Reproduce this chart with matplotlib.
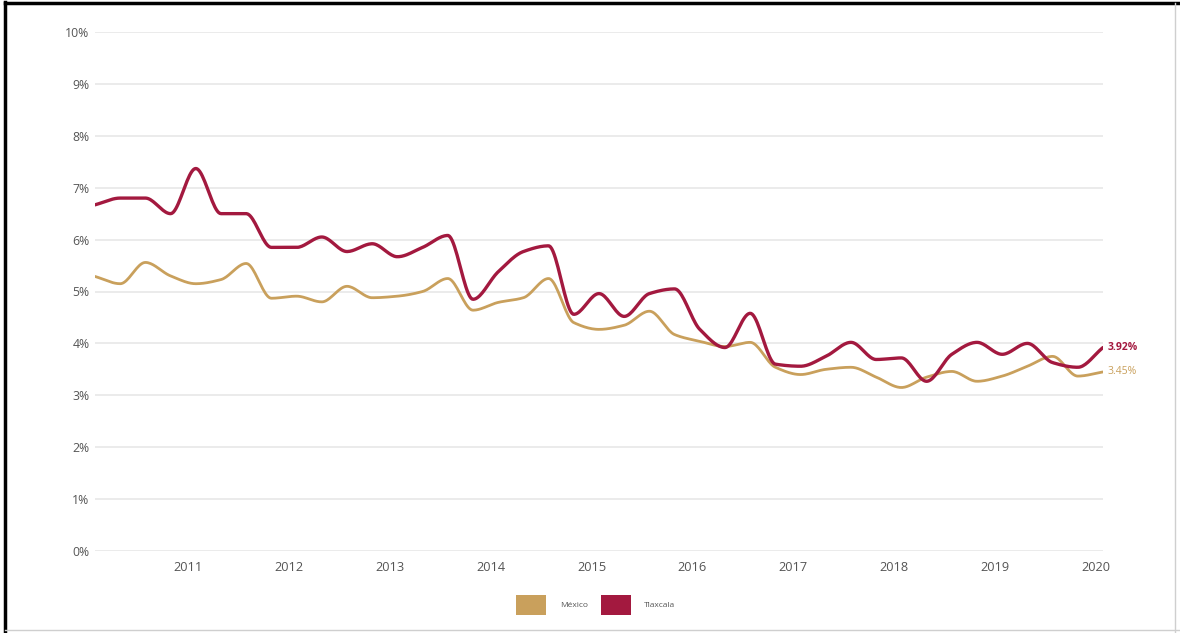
import numpy as np
import matplotlib.pyplot as plt
from matplotlib.patches import Patch
from matplotlib.lines import Line2D

# quarterly series, 2010 Q1 .. 2020 Q1
mexico = [5.29, 5.15, 5.56, 5.30, 5.15, 5.23, 5.54, 4.87, 4.91, 4.80,
          5.10, 4.88, 4.91, 5.00, 5.25, 4.64, 4.79, 4.88, 5.25, 4.40,
          4.27, 4.35, 4.62, 4.17, 4.04, 3.94, 4.02, 3.54, 3.40, 3.50,
          3.54, 3.35, 3.15, 3.35, 3.46, 3.27, 3.37, 3.56, 3.75, 3.37,
          3.45]
tlaxcala = [6.67, 6.80, 6.80, 6.50, 7.37, 6.50, 6.50, 5.85, 5.85, 6.05,
            5.77, 5.92, 5.67, 5.85, 6.08, 4.85, 5.38, 5.77, 5.88, 4.56,
            4.96, 4.52, 4.96, 5.05, 4.27, 3.92, 4.58, 3.60, 3.56, 3.75,
            4.02, 3.69, 3.72, 3.27, 3.79, 4.02, 3.79, 4.00, 3.63, 3.54,
            3.92]
years = [2011, 2012, 2013, 2014, 2015, 2016, 2017, 2018, 2019, 2020]
series_names = ["México", "Tlaxcala"]

GOLD = "#c9a05c"
RED = "#a3193f"
GRID = "#e8e8e8"
TXT = "#555555"

plt.rcParams['font.family'] = ['Open Sans', 'DejaVu Sans']


def pchip(x, y, xs):
    # monotone cubic interpolation (Fritsch-Carlson)
    x = np.asarray(x, float)
    y = np.asarray(y, float)
    h = np.diff(x)
    d = np.diff(y) / h
    m = np.zeros_like(y)
    for k in range(1, len(y) - 1):
        if d[k - 1] * d[k] > 0:
            w1 = 2 * h[k] + h[k - 1]
            w2 = h[k] + 2 * h[k - 1]
            m[k] = (w1 + w2) / (w1 / d[k - 1] + w2 / d[k])
    m[0] = d[0]
    m[-1] = d[-1]
    idx = np.clip(np.searchsorted(x, xs) - 1, 0, len(x) - 2)
    t = (xs - x[idx]) / h[idx]
    h00 = 2 * t**3 - 3 * t**2 + 1
    h10 = t**3 - 2 * t**2 + t
    h01 = -2 * t**3 + 3 * t**2
    h11 = t**3 - t**2
    return h00 * y[idx] + h10 * h[idx] * m[idx] + h01 * y[idx + 1] + h11 * h[idx] * m[idx + 1]


fig = plt.figure(figsize=(11.8, 6.33), dpi=100)
ax = fig.add_axes([95 / 1180, 1 - 551 / 633, 1008 / 1180, 519 / 633])

q = np.arange(len(mexico))
qs = np.linspace(0, len(mexico) - 1, 800)
ax.plot(qs, pchip(q, mexico, qs), color=GOLD, lw=2.0, solid_capstyle='round', zorder=3)
ax.plot(qs, pchip(q, tlaxcala, qs), color=RED, lw=2.4, solid_capstyle='round', zorder=4)

ax.set_xlim(0, len(mexico) - 1)
ax.set_ylim(0, 10)
ax.set_yticks(range(0, 11))
ax.set_yticklabels([f"{v}%" for v in range(0, 11)], fontsize=8.8, color=TXT)
ax.set_xticks([4 * (k + 1) - 0.3 for k in range(len(years))])
ax.set_xticklabels([str(y) for y in years], fontsize=9.2, color=TXT)
ax.tick_params(length=0, pad=7)
ax.tick_params(axis='y', pad=4)
ax.grid(axis='y', color=GRID, lw=1.2)
ax.set_axisbelow(True)
for s in ax.spines.values():
    s.set_visible(False)

# end labels
ax.annotate(f"{tlaxcala[-1]:.2f}%", (q[-1], tlaxcala[-1]), xytext=(3, 0),
            textcoords='offset points', va='center', ha='left',
            fontsize=7.5, color=RED, fontweight='bold', annotation_clip=False)
ax.annotate(f"{mexico[-1]:.2f}%", (q[-1], mexico[-1]), xytext=(3, 0),
            textcoords='offset points', va='center', ha='left',
            fontsize=7.5, color=GOLD, annotation_clip=False)

handles = [Patch(facecolor=GOLD, edgecolor='none'), Patch(facecolor=RED, edgecolor='none')]
fig.legend(handles, series_names, loc='center', bbox_to_anchor=(0.505, 0.0445),
           ncol=2, frameon=False, fontsize=6, handlelength=3.6, handleheight=3.2,
           handletextpad=1.6, columnspacing=1.6, labelcolor=TXT)

# screenshot frame
fig.add_artist(Line2D([0.004, 0.004], [0, 0.997], transform=fig.transFigure, color='black', lw=2.5))
fig.add_artist(Line2D([0.004, 1], [0.995, 0.995], transform=fig.transFigure, color='black', lw=2.5))
fig.add_artist(Line2D([0.996, 0.996], [0, 0.995], transform=fig.transFigure, color='#cfcfcf', lw=1))
fig.add_artist(Line2D([0.004, 1], [0.004, 0.004], transform=fig.transFigure, color='#cfcfcf', lw=1))

fig.savefig("out.png", dpi=100)
